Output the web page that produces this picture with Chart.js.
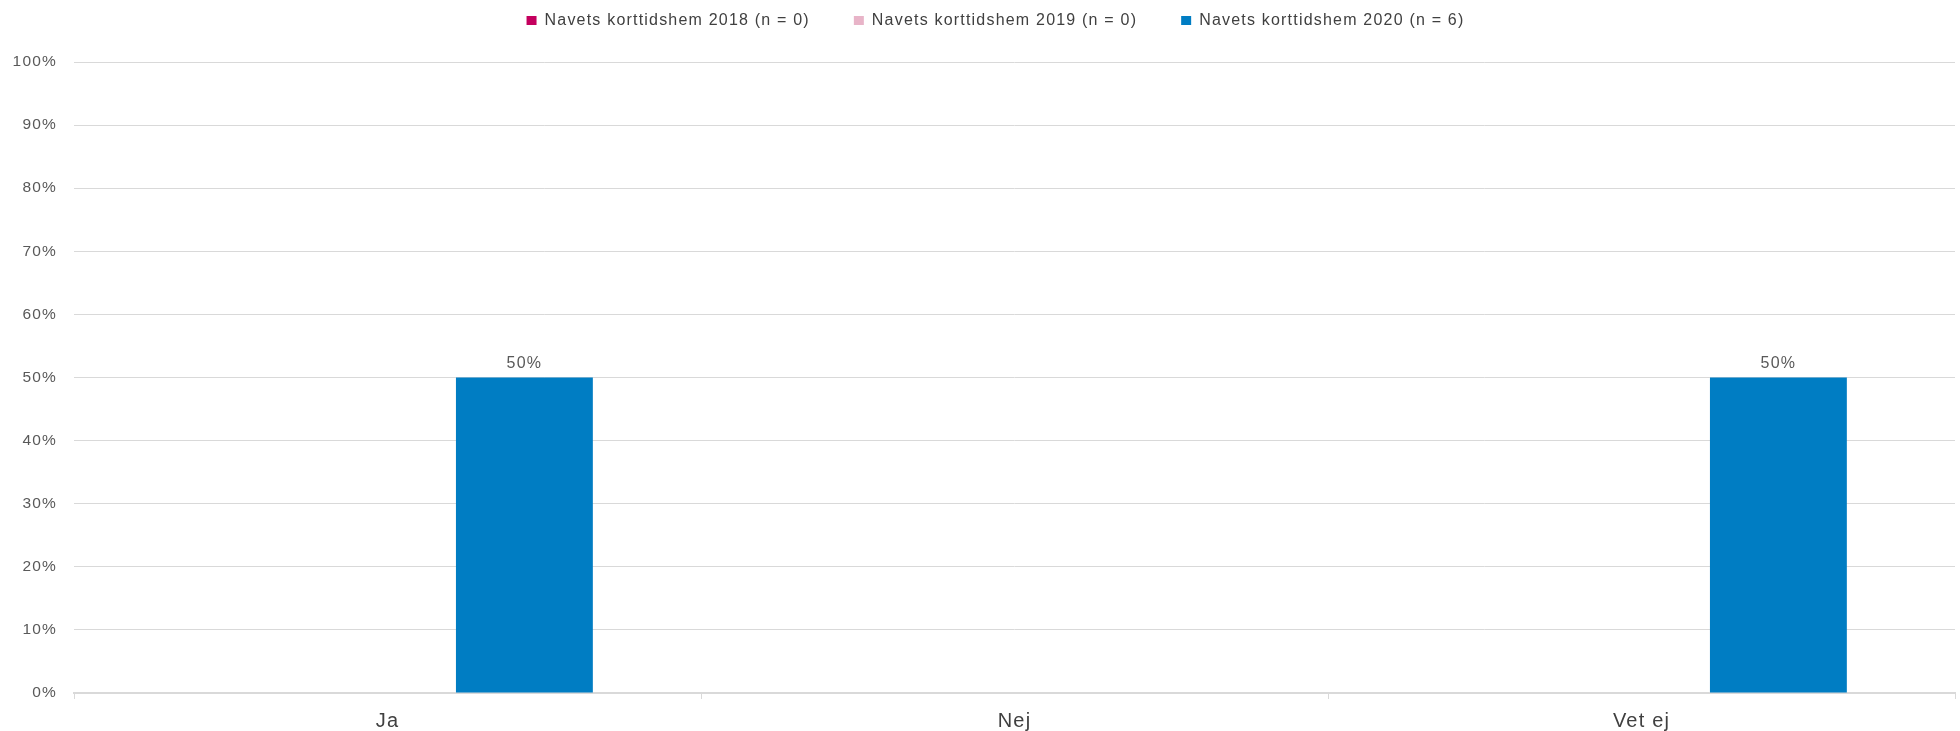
<!DOCTYPE html>
<html>
<head>
<meta charset="utf-8">
<script src="https://cdn.jsdelivr.net/npm/chart.js@4/dist/chart.umd.min.js"></script>
<style>
  html, body { margin: 0; padding: 0; background: #ffffff; }
  #wrap { width: 1960px; height: 731px; position: relative; }
</style>
</head>
<body>
<div id="wrap"><canvas id="chart"></canvas></div>
<script>
/* ===== DATA ===== */
const categories = ['Ja', 'Nej', 'Vet ej'];
const seriesLabels = [
    'Navets korttidshem 2018 (n = 0)',
    'Navets korttidshem 2019 (n = 0)',
    'Navets korttidshem 2020 (n = 6)'
];
const values2018 = [null, null, null];
const values2019 = [null, null, null];
const values2020 = [50, 0, 50];
const seriesColors = ['#c4005e', '#e8b4c8', '#007dc3'];

const SPACING = '1.2px';

/* letter spacing on the canvas, reset after every resize */
const spacingPlugin = {
    id: 'spacing',
    beforeUpdate(chart) { chart.ctx.letterSpacing = SPACING; },
    beforeDraw(chart) { chart.ctx.letterSpacing = SPACING; }
};

/* move the legend up into the top strip */
const legendPlace = {
    id: 'legendPlace',
    afterLayout(chart) {
        const lg = chart.legend;
        if (!lg) return;
        lg.top = 20.5 - 8 - 44;
        lg.left += 18;
        lg.right += 18;
    }
};

/* value labels above bars */
const valueLabels = {
    id: 'valueLabels',
    afterDatasetsDraw(chart) {
        const ctx = chart.ctx;
        ctx.save();
        ctx.font = '16px "Liberation Sans", Arial, sans-serif';
        ctx.fillStyle = '#595959';
        ctx.textAlign = 'center';
        ctx.textBaseline = 'bottom';
        chart.data.datasets.forEach((ds, i) => {
            const meta = chart.getDatasetMeta(i);
            meta.data.forEach((bar, j) => {
                const v = ds.data[j];
                if (v == null || v === 0) return;
                ctx.fillText(v + '%', bar.x, bar.y - 6);
            });
        });
        ctx.restore();
    }
};

new Chart(document.getElementById('chart'), {
    type: 'bar',
    data: {
        labels: categories,
        datasets: [
            { label: seriesLabels[0], data: values2018, backgroundColor: seriesColors[0] },
            { label: seriesLabels[1], data: values2019, backgroundColor: seriesColors[1] },
            { label: seriesLabels[2], data: values2020, backgroundColor: seriesColors[2] }
        ]
    },
    options: {
        responsive: true,
        maintainAspectRatio: false,
        animation: false,
        layout: { padding: { top: -8, right: 5, bottom: 0, left: 0 } },
        datasets: {
            bar: { categoryPercentage: 0.655, barPercentage: 1, borderWidth: 0 }
        },
        plugins: {
            tooltip: { enabled: false },
            legend: {
                position: 'top',
                labels: {
                    boxWidth: 10,
                    boxHeight: 9,
                    padding: 44,
                    color: '#404040',
                    font: { family: '"Liberation Sans", Arial, sans-serif', size: 16 }
                }
            }
        },
        scales: {
            x: {
                grid: {
                    offset: true,
                    drawOnChartArea: false,
                    drawTicks: true,
                    tickLength: 6,
                    color: '#d9d9d9'
                },
                border: { display: true, color: '#d9d9d9', width: 2 },
                ticks: {
                    padding: 10,
                    color: '#404040',
                    font: { family: '"Liberation Sans", Arial, sans-serif', size: 20 }
                },
                afterFit(scale) { scale.height = 38; }
            },
            y: {
                min: 0,
                max: 100,
                grid: { color: '#d9d9d9', lineWidth: 1, drawTicks: false },
                border: { display: false },
                ticks: {
                    stepSize: 10,
                    padding: 17,
                    color: '#595959',
                    font: { family: '"Liberation Sans", Arial, sans-serif', size: 15.5 },
                    callback: v => v + '%'
                },
                afterFit(scale) { scale.width = 74; }
            }
        }
    },
    plugins: [spacingPlugin, legendPlace, valueLabels]
});
</script>
</body>
</html>
